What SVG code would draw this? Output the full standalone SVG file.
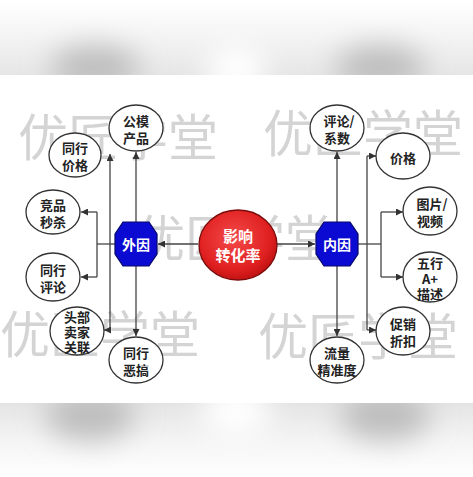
<svg xmlns="http://www.w3.org/2000/svg" width="473" height="477" viewBox="0 0 473 477">
<defs>
<style>
.wm{font-family:"Noto Sans CJK SC","Noto Sans",sans-serif;font-size:50px;fill:#d4d4d4;}
.c{fill:#fff;stroke:#333;stroke-width:1.3;}
.t{font-family:"Noto Sans CJK SC","Noto Sans",sans-serif;font-size:13px;font-weight:bold;fill:#222;text-anchor:middle;dominant-baseline:central;}
.w{font-family:"Noto Sans CJK SC","Noto Sans",sans-serif;font-weight:bold;fill:#fff;text-anchor:middle;dominant-baseline:central;}
.oct{fill:#0a0ad2;stroke:#06066a;stroke-width:1.2;}
.ln{fill:none;stroke:#444;stroke-width:1.3;}
</style>
<marker id="ah" viewBox="0 0 10 10" refX="10" refY="5" markerWidth="7" markerHeight="7" markerUnits="userSpaceOnUse" orient="auto">
<path d="M0,0 L10,5 L0,10 z" fill="#333"/>
</marker>
<radialGradient id="rg" cx="0.45" cy="0.4" r="0.65">
<stop offset="0" stop-color="#f44a4a"/>
<stop offset="0.7" stop-color="#e02020"/>
<stop offset="1" stop-color="#b80e0e"/>
</radialGradient>
<linearGradient id="topg" x1="0" y1="0" x2="0" y2="1">
<stop offset="0" stop-color="#ffffff"/>
<stop offset="0.4" stop-color="#f6f6f6"/>
<stop offset="1" stop-color="#e6e6e6"/>
</linearGradient>
<linearGradient id="botg" x1="0" y1="0" x2="0" y2="1">
<stop offset="0" stop-color="#e4e4e4"/>
<stop offset="0.5" stop-color="#f4f4f4"/>
<stop offset="1" stop-color="#ffffff"/>
</linearGradient>
<filter id="blur" x="-50%" y="-50%" width="200%" height="200%"><feGaussianBlur stdDeviation="14"/></filter>
<clipPath id="topc"><rect x="0" y="0" width="473" height="75"/></clipPath>
<clipPath id="botc"><rect x="0" y="403" width="473" height="74"/></clipPath>
</defs>
<rect width="473" height="477" fill="#fff"/>
<g id="top-band" clip-path="url(#topc)">
<rect x="0" y="0" width="473" height="75" fill="url(#topg)"/>
<g filter="url(#blur)">
<ellipse cx="95" cy="68" rx="45" ry="22" fill="#bdbdbd"/>
<ellipse cx="380" cy="68" rx="45" ry="22" fill="#bdbdbd"/>
<ellipse cx="236" cy="70" rx="30" ry="25" fill="#ffffff"/>
</g>
</g>
<g id="bottom-band" clip-path="url(#botc)">
<rect x="0" y="403" width="473" height="74" fill="url(#botg)"/>
<g filter="url(#blur)">
<ellipse cx="90" cy="415" rx="45" ry="25" fill="#bdbdbd"/>
<ellipse cx="385" cy="415" rx="45" ry="25" fill="#bdbdbd"/>
<ellipse cx="236" cy="412" rx="35" ry="25" fill="#ffffff"/>
</g>
</g>
<g id="watermarks">
<text class="wm" x="18" y="156">优匠学堂</text>
<text class="wm" x="263" y="152">优匠学堂</text>
<text class="wm" x="135" y="257">优匠学堂</text>
<text class="wm" x="0" y="353">优匠学堂</text>
<text class="wm" x="258" y="355">优匠学堂</text>
</g>
<g id="connectors">
<path class="ln" d="M198,244 H158" marker-end="url(#ah)"/>
<path class="ln" d="M115,244 H97"/>
<path class="ln" d="M97,212 V277"/>
<path class="ln" d="M97,212 H81" marker-end="url(#ah)"/>
<path class="ln" d="M97,277 H81" marker-end="url(#ah)"/>
<path class="ln" d="M110,330 V154" marker-end="url(#ah)"/>
<path class="ln" d="M110,330 H104" marker-end="url(#ah)"/>
<path class="ln" d="M136,222 V152" marker-end="url(#ah)"/>
<path class="ln" d="M136,266 V336" marker-end="url(#ah)"/>
<path class="ln" d="M277,244 H315" marker-end="url(#ah)"/>
<path class="ln" d="M357,244 H381"/>
<path class="ln" d="M367,156 V330"/>
<path class="ln" d="M367,156 H376" marker-end="url(#ah)"/>
<path class="ln" d="M367,330 H376" marker-end="url(#ah)"/>
<path class="ln" d="M381,212 V277"/>
<path class="ln" d="M381,212 H403" marker-end="url(#ah)"/>
<path class="ln" d="M381,277 H403" marker-end="url(#ah)"/>
<path class="ln" d="M337,222 V152" marker-end="url(#ah)"/>
<path class="ln" d="M337,266 V336" marker-end="url(#ah)"/>
</g>
<g id="center">
<ellipse cx="238" cy="245" rx="39" ry="35" fill="url(#rg)" stroke="#7a0c0c" stroke-width="1.3"/>
<text class="w" x="238" y="235" font-size="15">影响</text>
<text class="w" x="238" y="254" font-size="15">转化率</text>
</g>
<g id="outer-cause">
<polygon class="oct" points="123,222 149,222 157,234 157,254 149,266 123,266 115,254 115,234"/>
<text class="w" x="136" y="244" font-size="14">外因</text>
</g>
<g id="inner-cause">
<polygon class="oct" points="324,222 350,222 358,234 358,254 350,266 324,266 316,254 316,234"/>
<text class="w" x="337" y="244" font-size="14">内因</text>
</g>
<g id="gongmo">
<ellipse class="c" cx="136" cy="128" rx="27" ry="23"/>
<text class="t" x="136" y="120">公模</text>
<text class="t" x="136" y="137">产品</text>
</g>
<g id="tonghang-jiage">
<ellipse class="c" cx="75" cy="155" rx="26" ry="22"/>
<text class="t" x="75" y="147">同行</text>
<text class="t" x="75" y="164">价格</text>
</g>
<g id="jingpin">
<ellipse class="c" cx="53" cy="212" rx="27" ry="22"/>
<text class="t" x="53" y="204">竞品</text>
<text class="t" x="53" y="221">秒杀</text>
</g>
<g id="tonghang-pinglun">
<ellipse class="c" cx="53" cy="277" rx="27" ry="24"/>
<text class="t" x="53" y="269">同行</text>
<text class="t" x="53" y="286">评论</text>
</g>
<g id="toubu">
<ellipse class="c" cx="77" cy="331" rx="27" ry="24"/>
<text class="t" x="77" y="316">头部</text>
<text class="t" x="77" y="331">卖家</text>
<text class="t" x="77" y="346">关联</text>
</g>
<g id="egao">
<ellipse class="c" cx="136" cy="360" rx="27" ry="23"/>
<text class="t" x="136" y="352">同行</text>
<text class="t" x="136" y="369">恶搞</text>
</g>
<g id="pinglun-xishu">
<ellipse class="c" cx="337" cy="128" rx="27" ry="23"/>
<text class="t" x="339" y="120">评论/</text>
<text class="t" x="337" y="137">系数</text>
</g>
<g id="jiage">
<ellipse class="c" cx="403" cy="156" rx="27" ry="23"/>
<text class="t" x="403" y="157">价格</text>
</g>
<g id="tupian">
<ellipse class="c" cx="430" cy="211" rx="27" ry="24"/>
<text class="t" x="432" y="203">图片/</text>
<text class="t" x="430" y="220">视频</text>
</g>
<g id="wuxing">
<ellipse class="c" cx="430" cy="277" rx="27" ry="25"/>
<text class="t" x="430" y="262">五行</text>
<text class="t" x="430" y="278">A+</text>
<text class="t" x="430" y="293">描述</text>
</g>
<g id="cuxiao">
<ellipse class="c" cx="403" cy="331" rx="27" ry="24"/>
<text class="t" x="403" y="323">促销</text>
<text class="t" x="403" y="340">折扣</text>
</g>
<g id="liuliang">
<ellipse class="c" cx="337" cy="360" rx="27" ry="23"/>
<text class="t" x="337" y="352">流量</text>
<text class="t" x="337" y="369">精准度</text>
</g>
</svg>
